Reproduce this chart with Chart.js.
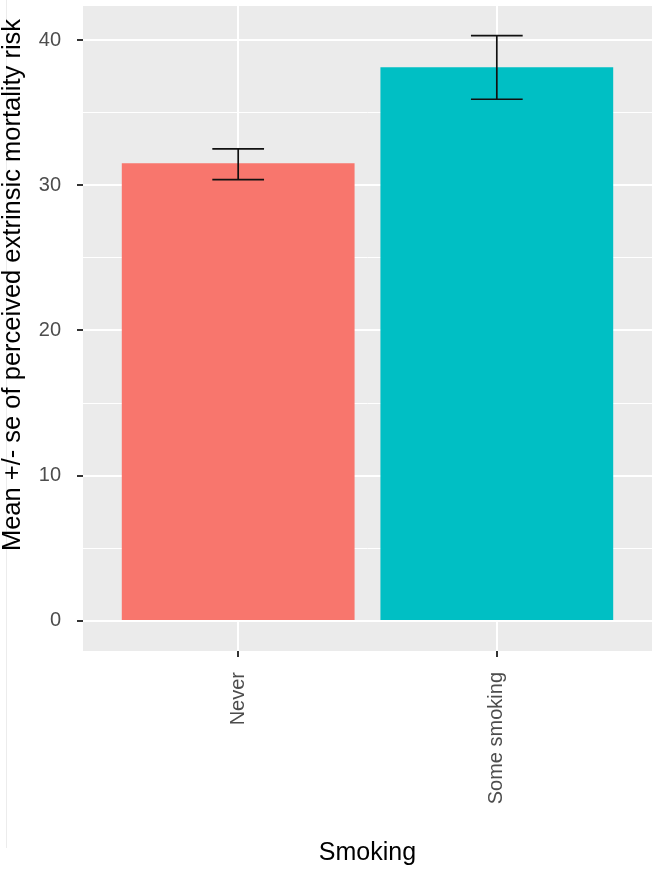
<!DOCTYPE html>
<html lang="en">

<head>
  <meta charset="UTF-8">
  <title>Smoking and perceived extrinsic mortality risk</title>
  <script src="https://cdn.jsdelivr.net/npm/chart.js"></script>
  <style>
    body { margin: 0; background: #fff; }
    canvas { display: block; }
  </style>
</head>

<body>
  <canvas id="chart" width="657" height="870"></canvas>
  <script>
    // values
    const categories = ['Never', 'Some smoking']
    const means = [31.51, 38.12]
    const seLow = [30.38, 35.92]
    const seHigh = [32.50, 40.30]
    const barColors = ['#F8766D', '#00BFC4']
    const yTicks = [0, 5, 10, 15, 20, 25, 30, 35, 40]
    const yTitle = 'Mean +/- se of perceived extrinsic mortality risk'

    const font = 'Liberation Sans, Arial, sans-serif'

    // grey panel, faint border line at the far left, y title
    const panelPlugin = {
      id: 'panel',
      beforeDraw(chart) {
        const { ctx, chartArea: a } = chart
        ctx.save()
        ctx.fillStyle = '#EBEBEB'
        ctx.fillRect(a.left, a.top, a.right - a.left, a.bottom - a.top)
        ctx.strokeStyle = '#ECECEC'
        ctx.lineWidth = 1
        ctx.beginPath()
        ctx.moveTo(6.5, 0)
        ctx.lineTo(6.5, 848)
        ctx.stroke()
        // y axis title (sits a bit above the panel centre in the reference)
        ctx.translate(13, 285)
        ctx.rotate(-Math.PI / 2)
        ctx.fillStyle = '#000'
        ctx.font = `25.5px ${font}`
        ctx.textAlign = 'center'
        ctx.textBaseline = 'middle'
        ctx.fillText(yTitle, 0, 0)
        ctx.restore()
      }
    }

    // mean +/- se whiskers
    const errorBarPlugin = {
      id: 'errorBars',
      afterDatasetsDraw(chart) {
        const { ctx, scales: { x, y } } = chart
        ctx.save()
        ctx.strokeStyle = '#111'
        ctx.lineWidth = 1.7
        categories.forEach((c, i) => {
          const cx = x.getPixelForValue(i + 1)
          const x0 = x.getPixelForValue(i + 0.9)
          const x1 = x.getPixelForValue(i + 1.1)
          const yLo = y.getPixelForValue(seLow[i])
          const yHi = y.getPixelForValue(seHigh[i])
          ctx.beginPath()
          ctx.moveTo(x0, yHi); ctx.lineTo(x1, yHi)
          ctx.moveTo(x0, yLo); ctx.lineTo(x1, yLo)
          ctx.moveTo(cx, yHi); ctx.lineTo(cx, yLo)
          ctx.stroke()
        })
        ctx.restore()
      }
    }

    new Chart(document.getElementById('chart').getContext('2d'), {
      type: 'bar',
      data: {
        datasets: [{
          data: means.map((m, i) => ({ x: i + 1, y: m })),
          backgroundColor: barColors,
          borderWidth: 0,
          barPercentage: 0.9,
          categoryPercentage: 1
        }]
      },
      options: {
        responsive: false,
        animation: false,
        layout: { padding: { top: 6, right: 5, left: 0, bottom: 0 } },
        plugins: {
          legend: { display: false },
          tooltip: { enabled: false }
        },
        scales: {
          x: {
            type: 'linear',
            min: 0.4,
            max: 2.6,
            offset: false,
            afterBuildTicks: s => { s.ticks = categories.map((c, i) => ({ value: i + 1 })) },
            afterFit: s => {
              s.height = 219
              s.paddingLeft = 0
              s.paddingRight = 0
            },
            border: { display: false },
            grid: { offset: false, color: '#FFFFFF', lineWidth: 2, tickColor: '#333333', tickLength: 6 },
            ticks: {
              autoSkip: false,
              minRotation: 90,
              maxRotation: 90,
              padding: 15,
              color: '#4D4D4D',
              font: { family: font, size: 20 },
              callback: v => categories[v - 1] ?? ''
            },
            title: {
              display: true,
              text: 'Smoking',
              color: '#000',
              font: { family: font, size: 25, lineHeight: 1 },
              padding: { top: 0, bottom: 4 }
            }
          },
          y: {
            min: -2.07,
            max: 42.34,
            afterBuildTicks: s => { s.ticks = yTicks.map(v => ({ value: v })) },
            afterFit: s => {
              s.width = 83
              s.paddingTop = 0
              s.paddingBottom = 0
            },
            border: { display: false },
            grid: {
              color: '#FFFFFF',
              lineWidth: c => (c.tick && c.tick.value % 10 === 0 ? 2 : 1),
              tickColor: c => (c.tick && c.tick.value % 10 === 0 ? '#333333' : 'rgba(0,0,0,0)'),
              tickLength: 6
            },
            ticks: {
              autoSkip: false,
              padding: 16,
              color: '#4D4D4D',
              font: { family: font, size: 20 },
              callback: v => (v % 10 === 0 ? v : '')
            }
          }
        }
      },
      plugins: [panelPlugin, errorBarPlugin]
    })
  </script>
</body>

</html>
